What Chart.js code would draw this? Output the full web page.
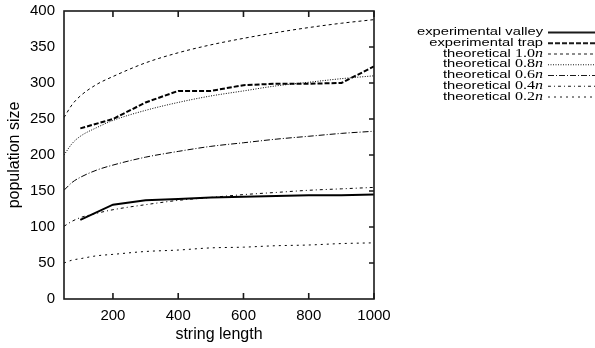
<!DOCTYPE html>
<html>
<head>
<meta charset="utf-8">
<script src="https://cdn.jsdelivr.net/npm/chart.js@4/dist/chart.umd.min.js"></script>
<style>
  html, body { margin: 0; padding: 0; background: #fff; }
  #wrap { width: 595px; height: 348px; position: relative; }
</style>
</head>
<body>
<div id="wrap"><canvas id="popChart"></canvas></div>
<script>
// string length values for the theoretical curves
var theoryX = [50, 75, 100, 150, 200, 300, 400, 500, 600, 700, 800, 900, 1000];
var theory10 = [252, 270, 282, 298, 309, 328, 342, 353, 362, 370, 377, 383, 388];
var theory08 = [200, 216, 226, 238, 248, 262, 273, 282, 289, 296, 301, 306, 310];
var theory06 = [151, 162, 169, 179, 186, 197, 205, 212, 217, 222, 226, 230, 233];
var theory04 = [101, 108, 113, 119, 124, 131, 137, 141, 145, 148, 151, 153, 155];
var theory02 = [50, 54, 56, 60, 62, 66, 68, 71, 72, 74, 75, 77, 78];

// experimental runs
var expX = [100, 200, 300, 400, 500, 600, 700, 800, 900, 1000];
var valley = [110, 131, 137, 139, 141, 142, 143, 144, 144, 145];
var trap = [237, 250, 273, 289, 289, 297, 299, 299, 300, 323];

var xTicks = [200, 400, 600, 800, 1000];

function pts(xs, ys) {
  return xs.map(function (x, i) { return { x: x, y: ys[i] }; });
}

var legendRows = [
  { label: 'experimental valley', coef: null, width: 2, dash: [] },
  { label: 'experimental trap', coef: null, width: 2, dash: [5, 2] },
  { label: 'theoretical ', coef: '1.0', width: 1, dash: [3, 3] },
  { label: 'theoretical ', coef: '0.8', width: 1, dash: [1, 1.5] },
  { label: 'theoretical ', coef: '0.6', width: 1, dash: [6, 2, 1, 2] },
  { label: 'theoretical ', coef: '0.4', width: 1, dash: [3, 3, 1, 3] },
  { label: 'theoretical ', coef: '0.2', width: 1, dash: [2, 4] }
];

function ds(data, row, tension) {
  return {
    data: data,
    borderColor: '#000',
    borderWidth: row.width,
    borderDash: row.dash,
    pointRadius: 0,
    tension: tension,
    cubicInterpolationMode: tension ? 'monotone' : 'default',
    fill: false
  };
}

var SANS = '"Liberation Sans", Arial, sans-serif';
var SERIF = '"Liberation Serif", "Times New Roman", serif';

// frame, inward tick marks and the right-hand legend
var framePlugin = {
  id: 'frame',
  afterDraw: function (chart) {
    var c = chart.ctx, a = chart.chartArea;
    var xs = chart.scales.x, ys = chart.scales.y;
    c.save();
    c.strokeStyle = '#1a1a1a';
    c.lineWidth = 1.6;
    c.setLineDash([]);
    c.strokeRect(a.left, a.top, a.right - a.left, a.bottom - a.top);
    c.beginPath();
    xTicks.forEach(function (v) {
      var px = xs.getPixelForValue(v);
      c.moveTo(px, a.bottom); c.lineTo(px, a.bottom - 6);
      c.moveTo(px, a.top); c.lineTo(px, a.top + 6);
    });
    for (var v = 50; v < 400; v += 50) {
      var py = ys.getPixelForValue(v);
      c.moveTo(a.right, py); c.lineTo(a.right - 5, py);
    }
    c.stroke();

    // legend: text is a bit wide in the original, so stretch horizontally
    var textRight = 543, y0 = 32, step = 10.75, fs = 11;
    c.font = fs + 'px ' + SANS;
    var sx = 126 / c.measureText('experimental valley').width;
    c.fillStyle = '#000';
    c.textBaseline = 'middle';
    c.textAlign = 'left';
    legendRows.forEach(function (r, i) {
      var y = y0 + i * step;
      var parts = [[r.label, fs + 'px ' + SANS]];
      if (r.coef) {
        parts.push([r.coef, (fs + 1) + 'px ' + SERIF]);
        parts.push(['n', 'italic ' + (fs + 1) + 'px ' + SERIF]);
      }
      var total = 0;
      parts.forEach(function (p) { c.font = p[1]; p.push(c.measureText(p[0]).width); total += p[2]; });
      c.save();
      c.translate(textRight - total * sx, y);
      c.scale(sx, 1);
      var x = 0;
      parts.forEach(function (p) { c.font = p[1]; c.fillText(p[0], x, 0); x += p[2]; });
      c.restore();
      c.beginPath();
      c.lineWidth = r.width;
      c.setLineDash(r.dash);
      c.moveTo(548, y + 0.5);
      c.lineTo(600, y + 0.5);
      c.stroke();
    });
    c.restore();
  }
};

var ctx = document.getElementById('popChart').getContext('2d');
var popChart = new Chart(ctx, {
  type: 'line',
  data: {
    datasets: [
      ds(pts(expX, valley), legendRows[0], 0),
      ds(pts(expX, trap), legendRows[1], 0),
      ds(pts(theoryX, theory10), legendRows[2], 0.4),
      ds(pts(theoryX, theory08), legendRows[3], 0.4),
      ds(pts(theoryX, theory06), legendRows[4], 0.4),
      ds(pts(theoryX, theory04), legendRows[5], 0.4),
      ds(pts(theoryX, theory02), legendRows[6], 0.4)
    ]
  },
  options: {
    responsive: true,
    maintainAspectRatio: false,
    animation: false,
    layout: { padding: { top: 11, right: 221, left: 0, bottom: 0 } },
    plugins: {
      legend: { display: false },
      tooltip: { enabled: false }
    },
    scales: {
      x: {
        type: 'linear',
        min: 50,
        max: 1000,
        afterBuildTicks: function (s) {
          s.ticks = xTicks.map(function (v) { return { value: v }; });
        },
        afterFit: function (s) { s.height = 49; s.paddingLeft = 0; s.paddingRight = 0; },
        grid: { display: false, drawTicks: false },
        border: { display: false },
        ticks: {
          color: '#000',
          padding: 8,
          maxRotation: 0,
          callback: function (v) { return String(v); },
          font: { family: SANS, size: 15 }
        },
        title: {
          display: true,
          text: 'string length',
          color: '#000',
          padding: { top: 0, bottom: 4 },
          font: { family: SANS, size: 16 }
        }
      },
      y: {
        min: 0,
        max: 400,
        afterFit: function (s) { s.width = 64; s.paddingTop = 0; s.paddingBottom = 0; },
        grid: { display: false, drawTicks: false },
        border: { display: false },
        ticks: {
          stepSize: 50,
          color: '#000',
          padding: 9,
          font: { family: SANS, size: 15 }
        },
        title: {
          display: true,
          text: 'population size',
          color: '#000',
          padding: { top: 5, bottom: 0 },
          font: { family: SANS, size: 16 }
        }
      }
    }
  },
  plugins: [framePlugin]
});
</script>
</body>
</html>
